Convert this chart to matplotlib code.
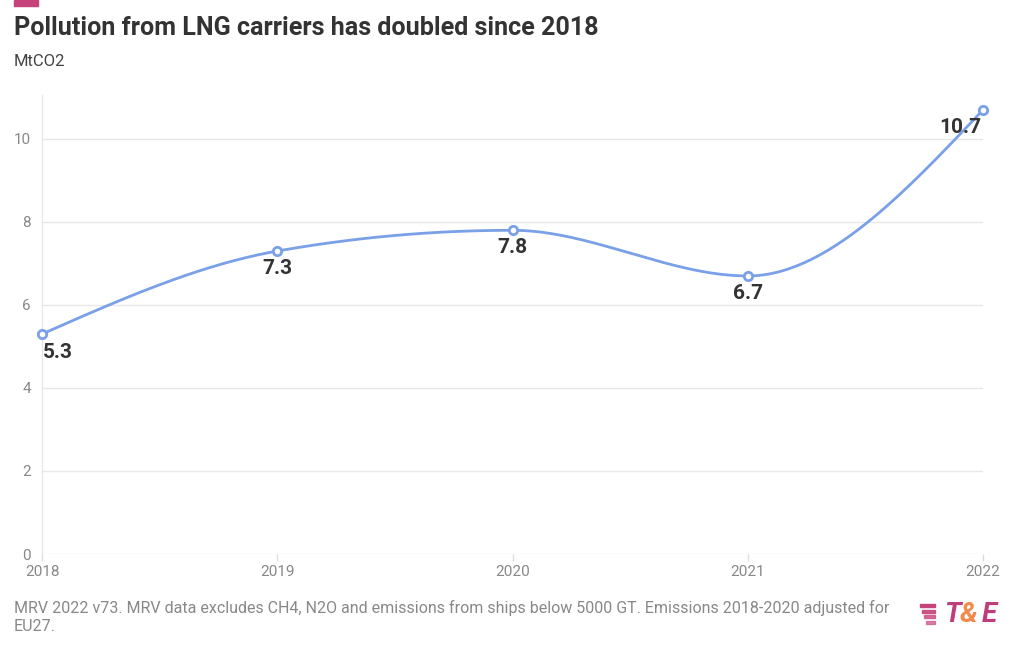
import numpy as np
import matplotlib.pyplot as plt
from matplotlib.patches import Rectangle

years = [2018, 2019, 2020, 2021, 2022]
emissions = [5.3, 7.3, 7.8, 6.7, 10.7]
labels = ['5.3', '7.3', '7.8', '6.7', '10.7']
yticks = [0, 2, 4, 6, 8, 10]

title = 'Pollution from LNG carriers has doubled since 2018'
subtitle = 'MtCO2'
note = ('MRV 2022 v73. MRV data excludes CH4, N2O and emissions from ships below 5000 GT. '
        'Emissions 2018-2020 adjusted for\nEU27.')

blue = '#7aa0e8'
dark = '#333333'
grey = '#888888'

plt.rcParams['font.family'] = ['Roboto', 'DejaVu Sans']


def monotone_curve(x, y, n=60):
    # d3 curveMonotoneX style smoothing between the points
    x = np.asarray(x, float)
    y = np.asarray(y, float)
    h = np.diff(x)
    s = np.diff(y) / h
    t = np.zeros(len(x))
    for i in range(1, len(x) - 1):
        p = (s[i - 1] * h[i] + s[i] * h[i - 1]) / (h[i - 1] + h[i])
        t[i] = (np.sign(s[i - 1]) + np.sign(s[i])) * min(abs(s[i - 1]), abs(s[i]), 0.5 * abs(p))
    t[0] = (3 * s[0] - t[1]) / 2
    t[-1] = (3 * s[-1] - t[-2]) / 2
    xs, ys = [], []
    u = np.linspace(0, 1, n)
    for i in range(len(x) - 1):
        dx = h[i] / 3
        p0 = (x[i], y[i])
        p1 = (x[i] + dx, y[i] + dx * t[i])
        p2 = (x[i + 1] - dx, y[i + 1] - dx * t[i + 1])
        p3 = (x[i + 1], y[i + 1])
        bx = (1 - u) ** 3 * p0[0] + 3 * (1 - u) ** 2 * u * p1[0] + 3 * (1 - u) * u ** 2 * p2[0] + u ** 3 * p3[0]
        by = (1 - u) ** 3 * p0[1] + 3 * (1 - u) ** 2 * u * p1[1] + 3 * (1 - u) * u ** 2 * p2[1] + u ** 3 * p3[1]
        xs.extend(bx)
        ys.extend(by)
    return np.array(xs), np.array(ys)


fig = plt.figure(figsize=(10.2, 6.5), dpi=100)
ax = fig.add_axes([42 / 1020, 1 - 554 / 650, (983 - 42) / 1020, (554 - 95) / 650])

cx, cy = monotone_curve(years, emissions)
ax.plot(cx, cy, color=blue, lw=2, zorder=3, clip_on=False)
ax.plot(years, emissions, 'o', ms=6, mfc='white', mec=blue, mew=2, zorder=4, clip_on=False)

for i, (x, y, lab) in enumerate(zip(years, emissions, labels)):
    if i == 0:
        off = (11.5, -13)
    elif i == len(years) - 1:
        off = (-16, -13)
    else:
        off = (0, -12.5)
    ax.annotate(lab, (x, y), xytext=off, textcoords='offset points', ha='center', va='center',
                fontsize=15, fontweight='bold', color=dark, zorder=5)

ax.set_xlim(2018, 2022)
ax.set_ylim(0, 11.06)
ax.set_yticks(yticks)
ax.set_xticks(years)
ax.set_xticklabels([str(y) for y in years])
ax.grid(axis='y', color='#e8e8e8', lw=1)
ax.set_axisbelow(True)
for sp in ['top', 'right', 'bottom']:
    ax.spines[sp].set_visible(False)
ax.spines['left'].set_color('#e4e4e4')
ax.tick_params(axis='y', length=0, labelsize=11, labelcolor=grey, pad=8)
ax.tick_params(axis='x', length=5, width=1, color='#dddddd', labelsize=11, labelcolor=grey, pad=3)

fig.patches.append(Rectangle((14 / 1020, 1 - 6 / 650), 24 / 1020, 6 / 650, transform=fig.transFigure,
                             color='#c6427a'))
fig.text(14 / 1020, 1 - 28 / 650, title, fontsize=18.1, fontweight='bold', color=dark, va='center')
fig.text(14 / 1020, 1 - 61 / 650, subtitle, fontsize=12, color='#444444', va='center')
fig.text(14 / 1020, 1 - 617 / 650, note, fontsize=11.5, color=grey, va='center', linespacing=1.25)

# logo
for k in range(4):
    w = 15 - k * 2
    fig.patches.append(Rectangle(((935 - w) / 1020, 1 - (607 + k * 5.5) / 650), w / 1020,
                                 3 / 650, transform=fig.transFigure, color='#c6427a', alpha=1 - k * 0.12))
fig.text(944 / 1020, 1 - 615 / 650, 'T', fontsize=20, fontweight='bold', style='italic', color='#c03d79',
         va='center', ha='left')
fig.text(960 / 1020, 1 - 615 / 650, '&', fontsize=20, fontweight='bold', style='italic', color='#f28a4c',
         va='center', ha='left')
fig.text(982 / 1020, 1 - 615 / 650, 'E', fontsize=20, fontweight='bold', style='italic', color='#c03d79',
         va='center', ha='left')

fig.savefig('out.png', dpi=100)
